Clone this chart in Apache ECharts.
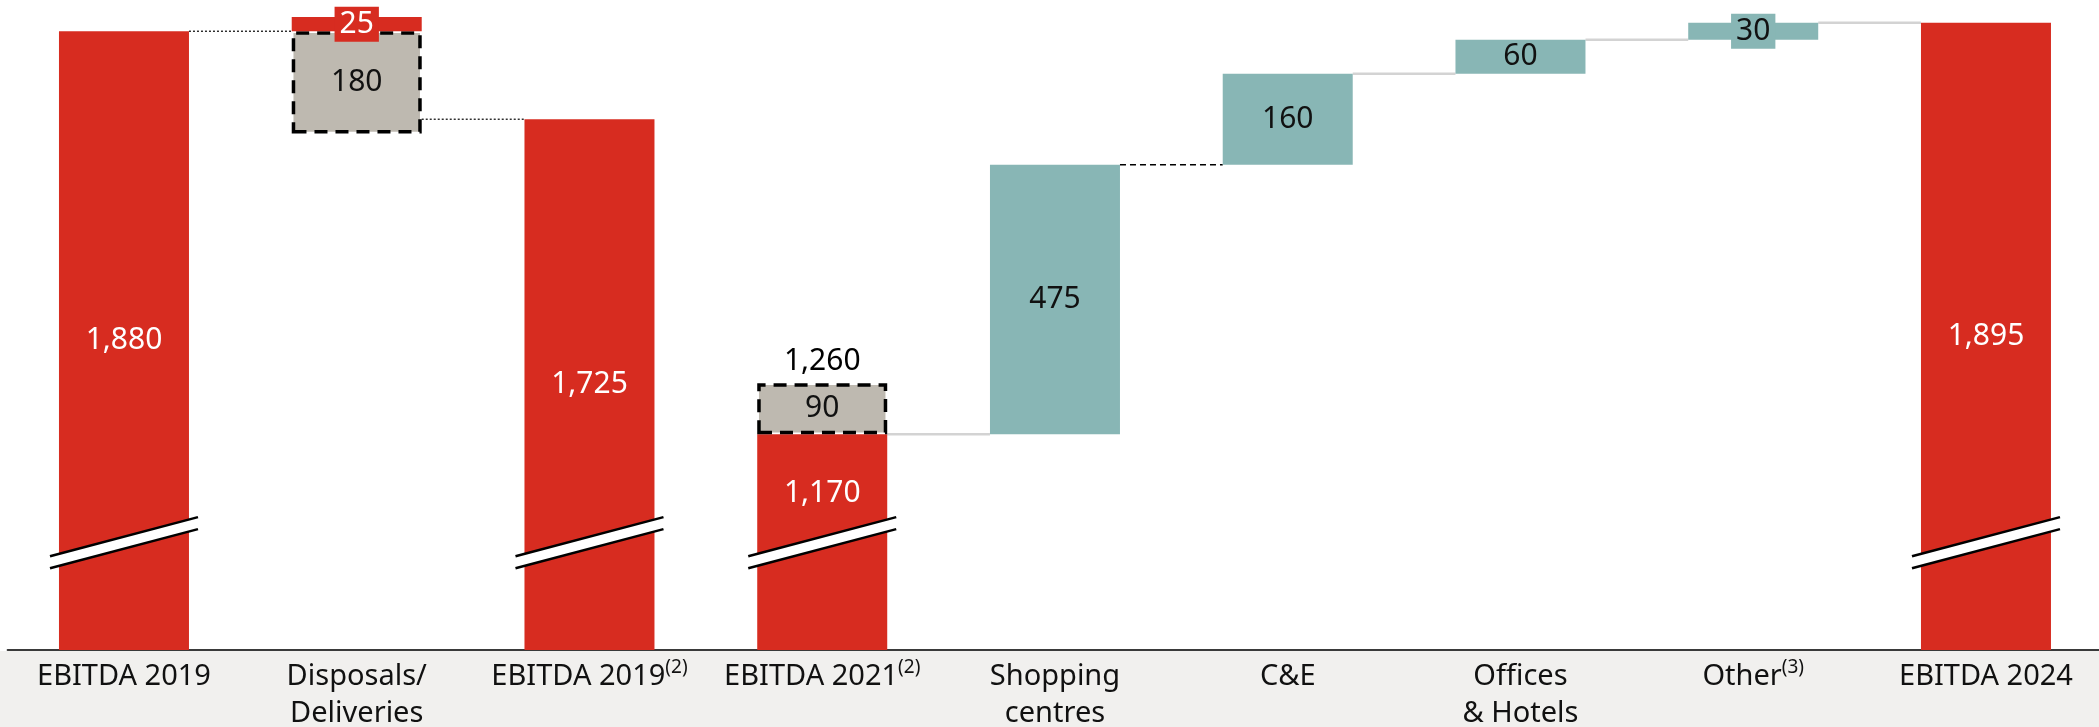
<!DOCTYPE html>
<html><head><meta charset="utf-8">
<script src="https://cdn.jsdelivr.net/npm/echarts/dist/echarts.min.js"></script>
<style>html,body{margin:0;padding:0;background:#fff}#c{width:2099px;height:727px}</style>
</head><body><div id="c"></div>
<script>
// ---------------- data ----------------
const categories = ['EBITDA 2019', 'Disposals/\nDeliveries', 'EBITDA 2019(2)', 'EBITDA 2021(2)',
  'Shopping\ncentres', 'C&E', 'Offices\n& Hotels', 'Other(3)', 'EBITDA 2024'];
const totals    = [1880, null, 1725, 1170, null, null, null, null, 1895]; // red full bars
const greyParts = [null, 180, null, 90, null, null, null, null, null];    // dashed grey boxes
const redAdds   = [null, 25, null, null, null, null, null, null, null];   // small red add-on
const increases = [null, null, null, null, 475, 160, 60, 30, null];       // teal bridge steps

// derived floating bases
const base = categories.map(() => null);
base[1] = totals[0] - greyParts[1];
let running = totals[3];
for (let i = 4; i < 8; i++) { base[i] = running; running += increases[i]; }
const proFormaTotal = categories.map((_, i) => (i === 3 ? totals[3] + greyParts[3] : null));

// connectors: [from category index, level]
const connectors = [
  [0, totals[0]], [1, totals[2]], [3, totals[3]], [4, base[5]], [5, base[6]], [6, base[7]], [7, totals[8]]
];
const connectorKinds = ['dot', 'dot', 'grey', 'dash', 'grey', 'grey', 'grey'];
const breakBars = totals.map((v, i) => (v != null ? [i, v] : null)).filter(Boolean);

// ---------------- style ----------------
const RED = '#D72C20', TEAL = '#88B6B5', GREY = '#BEB9B0';
const FONT = 'Noto Sans';
const BAR_W = 130;
const BREAK_LO = 955, BREAK_HI = 1024;
const fmt = v => Number(v).toLocaleString('en-US');

const valLabel = (color, extra) => Object.assign({
  show: true, position: 'inside', color: color, fontFamily: FONT, fontSize: 30,
  formatter: p => fmt(p.value)
}, extra || {});

const smallItem = (v, bg) => v == null ? null :
  (v < 40 ? { value: v, label: { backgroundColor: bg, padding: [2, 5], lineHeight: 31 } } : v);

const chart = echarts.init(document.getElementById('c'));
chart.setOption({
  animation: false,
  backgroundColor: '#fff',
  graphic: { elements: [{ type: 'rect', left: 0, top: 651, z: -10,
    shape: { width: 2099, height: 76 }, style: { fill: '#F1F0EE' } }] },
  grid: { left: 7.6, top: 0, width: 2094.75, height: 650, containLabel: false, outerBoundsMode: 'none' },
  xAxis: {
    type: 'category', data: categories,
    axisLine: { lineStyle: { color: '#3a3a3a', width: 2 } },
    axisTick: { show: false },
    axisLabel: {
      interval: 0, margin: 8, color: '#111', fontFamily: FONT, fontSize: 29, lineHeight: 37,
      formatter: s => s.replace(/\((\d)\)/g, '{sup|($1)}'),
      rich: { sup: { fontFamily: FONT, fontSize: 19, color: '#111', verticalAlign: 'top', lineHeight: 24 } }
    }
  },
  yAxis: { type: 'value', min: 790, max: 1935, show: false, splitLine: { show: false } },
  series: [
    { name: 'base', type: 'bar', stack: 'w', barWidth: BAR_W, data: base,
      itemStyle: { color: 'rgba(0,0,0,0)' }, silent: true },
    { name: 'total', type: 'bar', stack: 'w', barWidth: BAR_W,
      data: totals.map((v, i) => i === 3 ? { value: v, label: { position: 'insideTop', distance: 44 } } : v),
      itemStyle: { color: RED }, label: valLabel('#fff') },
    { name: 'grey', type: 'bar', stack: 'w', barWidth: BAR_W, z: 3, data: greyParts,
      itemStyle: { color: GREY, borderColor: '#000', borderWidth: 3.5, borderType: [13, 8] },
      label: valLabel('#111') },
    { name: 'redAdd', type: 'bar', stack: 'w', barWidth: BAR_W, z: 4,
      data: redAdds.map(v => smallItem(v, RED)),
      itemStyle: { color: RED }, label: valLabel('#fff') },
    { name: 'inc', type: 'bar', stack: 'w', barWidth: BAR_W,
      data: increases.map(v => smallItem(v, TEAL)),
      itemStyle: { color: TEAL }, label: valLabel('#111') },
    { name: 'proforma', type: 'scatter', data: proFormaTotal, symbolSize: 1, z: 6,
      itemStyle: { color: 'rgba(0,0,0,0)', opacity: 1 },
      label: { show: true, position: 'top', distance: 6, color: '#000', opacity: 1, fontFamily: FONT, fontSize: 30,
        formatter: p => fmt(Array.isArray(p.value) ? p.value[1] : p.value) } },
    { name: 'connectors', type: 'custom', z: 1, silent: true, data: connectors,
      renderItem: (params, api) => {
        const i = api.value(0), v = api.value(1);
        const a = api.coord([i, v]), b = api.coord([i + 1, v]);
        const kind = connectorKinds[params.dataIndex];
        const st = kind === 'dot' ? { stroke: '#000', lineWidth: 1.2, lineDash: [2, 2] }
          : kind === 'dash' ? { stroke: '#000', lineWidth: 1.5, lineDash: [6, 4] }
          : { stroke: '#d3d3d3', lineWidth: 2.5 };
        return { type: 'line', shape: { x1: a[0] + BAR_W / 2, y1: a[1], x2: b[0] - BAR_W / 2, y2: b[1] }, style: st };
      } },
    { name: 'breaks', type: 'custom', z: 5, silent: true, data: breakBars,
      renderItem: (params, api) => {
        const i = api.value(0);
        const lo = api.coord([i, BREAK_LO]), hi = api.coord([i, BREAK_HI]);
        const x0 = lo[0] - 74, x1 = lo[0] + 74, yl = lo[1], yr = hi[1], g = 12;
        const ls = { stroke: '#000', lineWidth: 2.5 };
        return { type: 'group', children: [
          { type: 'polygon', shape: { points: [[x0, yl], [x1, yr], [x1, yr + g], [x0, yl + g]] }, style: { fill: '#fff' } },
          { type: 'line', shape: { x1: x0, y1: yl, x2: x1, y2: yr }, style: ls },
          { type: 'line', shape: { x1: x0, y1: yl + g, x2: x1, y2: yr + g }, style: ls }
        ] };
      } }
  ]
});
</script></body></html>
